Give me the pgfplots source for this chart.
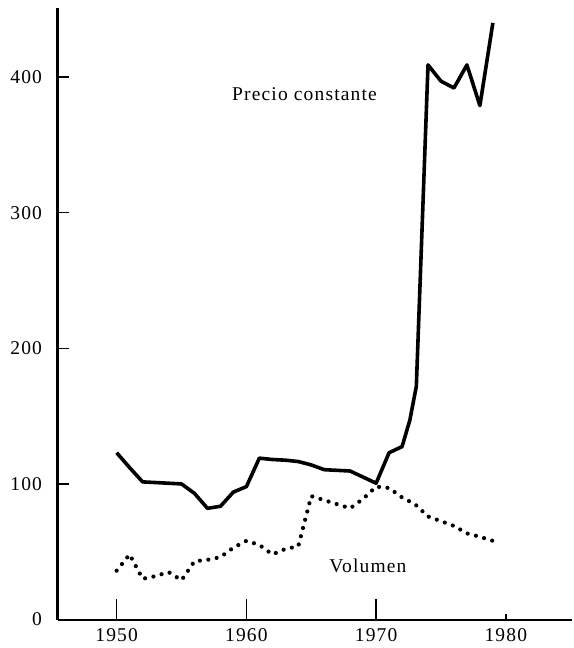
\documentclass[border=0pt]{standalone}
\usepackage{fontspec}
\setmainfont{Liberation Serif}[LetterSpace=6]
\usepackage{pgfplots}
\pgfplotsset{compat=1.18}
\pgfplotsset{
  base/.style={
    scale only axis, width=514.5pt, height=611.5pt,
    xmin=1945.44, xmax=1985.1, ymin=0, ymax=451,
    axis x line=bottom, axis y line=left, axis line style={-},
    tick align=inside,
    minor tick num=0,
    every tick/.style={black, line width=1.4pt},
    /pgf/number format/1000 sep={},
    /pgf/number format/assume math mode=true,
    clip=false,
  },
  overlay/.style={
    base,
    axis line style={draw=none},
    xticklabels={}, yticklabels={},
  },
}
\begin{document}
\begin{tikzpicture}
\begin{axis}[
  base,
  x axis line style={line width=2pt},
  y axis line style={line width=2.8pt},
  tick label style={font=\fontsize{19.5}{22}\selectfont, black},
  major tick length=0pt,
  xtick={1950,1960,1970,1980},
  ytick={0,100,200,300,400},
  xticklabel style={yshift=-5pt},
  yticklabel style={xshift=-12pt},
]
\addplot[black, line width=3.6pt, line join=round] coordinates {
(1950,123) (1951,112) (1952,101.5) (1953,101) (1954,100.5) (1955,100)
(1956,93) (1957,82) (1958,83.5) (1959,94) (1960,98) (1961,119)
(1962,118) (1963,117.5) (1964,116.5) (1965,114) (1966,110.5) (1967,110)
(1968,109.5) (1969,105) (1970,100.5) (1971,123) (1972,127.5) (1972.6,147) (1973.1,172)
(1974,409) (1975,397) (1976,392) (1977,409) (1978,379) (1979,440)
};
\addplot[black, line width=4.2pt, line cap=round, dash pattern=on 0pt off 8.5pt] coordinates {
(1950,36) (1951,48) (1952,30) (1953,32) (1954,35) (1955,29)
(1956,43) (1957,44) (1958,46) (1959,53) (1960,58) (1961,55)
(1962,48) (1963,52) (1964,54) (1965,91) (1966,88) (1967,85)
(1968,82) (1969,89) (1970,98) (1971,97) (1972,90) (1973,85)
(1974,76) (1975,72.5) (1976,69) (1977,63.5) (1978,61) (1979,58) (1979.5,55)
};
\node[anchor=base, font=\fontsize{19.5}{22}\selectfont] at (axis cs:1964.48,382.6) {Precio constante};
\node[anchor=base, font=\fontsize{19.5}{22}\selectfont] at (axis cs:1969.37,34.8) {Volumen};
\end{axis}
% y ticks, 11pt inward, drawn as the first 11pt of each major grid line
\begin{axis}[overlay, major tick length=0pt, xtick=\empty, ytick={100,200,300,400},
  ymajorgrids, major grid style={black, line width=1.4pt, dash pattern=on 11pt off 2000pt}]
\end{axis}
% tall x ticks
\begin{axis}[overlay, major tick length=20pt, xtick={1950,1960,1970}, ytick=\empty]
\end{axis}
% short x tick at 1980
\begin{axis}[overlay, major tick length=5pt, xtick={1980}, ytick=\empty]
\end{axis}
\path (current axis.south west) +(-57.5pt,-28.5pt);
\path (current axis.north east) +(0pt,8pt);
\end{tikzpicture}
\end{document}
